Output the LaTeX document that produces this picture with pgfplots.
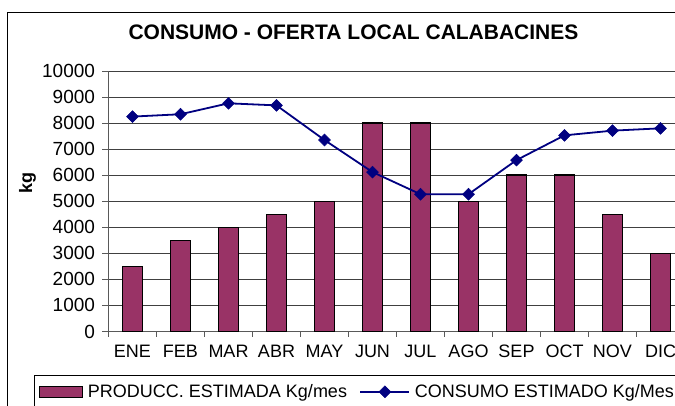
\documentclass[border=0pt]{standalone}
\usepackage{fontspec}
\setmainfont{Liberation Sans}
\usepackage{pgfplots}
\pgfplotsset{compat=1.18}
\definecolor{barc}{HTML}{993366}
\definecolor{linec}{HTML}{000080}
\pgfplotsset{
  linelegend/.style={legend image code/.code={\draw[mark repeat=2, mark phase=2, ##1] plot coordinates {(0pt,0pt) (24.5pt,0pt) (49pt,0pt)};}},
  barlegend/.style={legend image code/.code={\draw[fill=barc, draw=black, line width=1.5pt] (0pt,-5.5pt) rectangle (43pt,5.5pt);}},
}
\begin{document}
\begin{tikzpicture}
\useasboundingbox (0pt,0pt) rectangle (675pt,-405pt);
\clip (0pt,0pt) rectangle (675pt,-405pt);
\draw[black, line width=1pt] (7pt,-12pt) rectangle (720pt,-440pt);
\begin{axis}[
  at={(108.5pt,-331.5pt)}, anchor=south west,
  scale only axis, width=576pt, height=260.5pt,
  xmin=-0.5, xmax=11.5, ymin=0, ymax=10000,
  scaled y ticks=false,
  axis x line*=bottom, axis y line*=left,
  axis line style={black!65, line width=1pt},
  xtick={0,...,11},
  xticklabels={ENE,FEB,MAR,ABR,MAY,JUN,JUL,AGO,SEP,OCT,NOV,DIC},
  minor xtick={-0.5,0.5,...,11.5},
  x tick style={draw=none},
  minor x tick style={draw=black!65, line width=1pt},
  ytick={0,1000,...,10000},
  y tick style={black!65, line width=1pt},
  tick align=outside,
  major tick length=6pt, minor tick length=5pt,
  ymajorgrids,
  major grid style={black!75, line width=1pt},
  /pgf/number format/1000 sep={},
  /pgf/number format/assume math mode=true,
  xticklabel style={yshift=-4pt, font=\fontsize{18}{21}\selectfont},
  yticklabel style={xshift=-4pt, font=\fontsize{19}{22}\selectfont},
  ylabel={kg},
  ylabel style={at={(axis description cs:-0.1406,0.57)}, anchor=center, font=\bfseries\fontsize{18}{21}\selectfont},
  title={CONSUMO - OFERTA LOCAL CALABACINES},
  every axis title shift=0pt,
  title style={at={(axis description cs:0.4253,1.147)}, anchor=center, font=\bfseries\fontsize{21}{24}\selectfont},
  legend style={at={(axis description cs:-0.1285,-0.167)}, anchor=north west,
    draw=black, line width=1pt, font=\fontsize{18}{21}\selectfont,
    inner xsep=4pt, inner ysep=7pt,
    nodes={inner xsep=4.5pt},
    /tikz/every even column/.append style={column sep=8pt}},
  legend columns=2,
  legend cell align=left,
]
\addplot[ybar, bar width=20pt, fill=barc, draw=black, line width=1.5pt, barlegend]
  coordinates {(0,2500) (1,3500) (2,4000) (3,4500) (4,5000) (5,8000) (6,8000) (7,5000) (8,6000) (9,6000) (10,4500) (11,3000)};
\addlegendentry{PRODUCC. ESTIMADA Kg/mes}
\addplot[linec, line width=1.8pt, mark=square*, mark size=4.2pt, mark options={rotate=45, fill=linec, draw=linec, line width=0.5pt}, linelegend]
  coordinates {(0,8250) (1,8340) (2,8760) (3,8680) (4,7350) (5,6120) (6,5270) (7,5270) (8,6580) (9,7530) (10,7710) (11,7800)};
\addlegendentry{CONSUMO ESTIMADO Kg/Mes}
\end{axis}
\end{tikzpicture}
\end{document}
